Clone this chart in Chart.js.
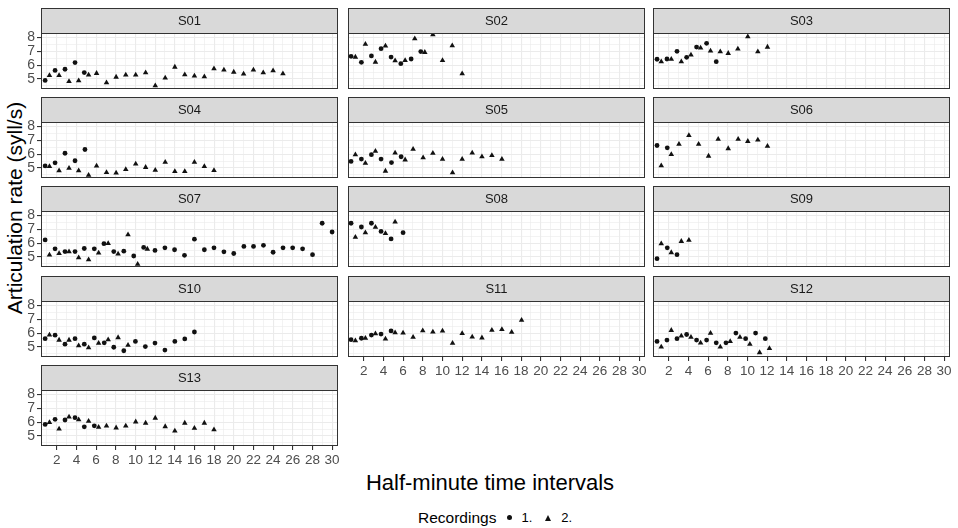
<!DOCTYPE html>
<html>
<head>
<meta charset="utf-8">
<script src="https://cdn.jsdelivr.net/npm/chart.js@4.4.0/dist/chart.umd.min.js"></script>
<style>
body { margin: 0; background: #fff; width: 958px; height: 528px; position: relative; overflow: hidden; font-family: 'Liberation Sans', Arial, sans-serif; }
canvas.panel { position: absolute; }
#ytitle { position: absolute; left: 15px; top: 208px; transform: translate(-50%, -50%) rotate(-90deg); font-size: 21px; color: #000; white-space: nowrap; }
#xtitle { position: absolute; left: 490px; top: 483px; transform: translate(-50%, -50%); font-size: 22px; color: #000; white-space: nowrap; }
#legend { position: absolute; left: 418px; top: 508px; font-size: 15.5px; color: #000; white-space: nowrap; }
#legend span { display: inline-block; vertical-align: middle; }
#legend .lab { font-size: 13px; }
.dot { width: 5px; height: 5px; border-radius: 50%; background: #111; margin: 0 9px 0 11px; }
.tri { width: 0; height: 0; border-left: 3.5px solid transparent; border-right: 3.5px solid transparent; border-bottom: 6px solid #111; margin: 0 10px 0 13px; }
</style>
</head>
<body>
<div id="ytitle">Articulation rate (syll/s)</div>
<div id="xtitle">Half-minute time intervals</div>
<div id="legend"><span>Recordings</span><span class="dot"></span><span class="lab">1.</span><span class="tri"></span><span class="lab">2.</span></div>
<script>
var subjects = ['S01', 'S02', 'S03', 'S04', 'S05', 'S06', 'S07', 'S08', 'S09', 'S10', 'S11', 'S12', 'S13'];

var xBreaks = [2, 4, 6, 8, 10, 12, 14, 16, 18, 20, 22, 24, 26, 28, 30];
var xMinor = [1, 3, 5, 7, 9, 11, 13, 15, 17, 19, 21, 23, 25, 27, 29];
var yBreaks = [5, 6, 7, 8];
var yMinor = [4.5, 5.5, 6.5, 7.5];

// [interval, rate] pairs, recording 1 (dots) and recording 2 (triangles)
var s01_rec1 = [[0.82,4.90],[1.83,5.62],[2.84,5.70],[3.86,6.18],[4.80,5.46]];
var s01_rec2 = [[1.26,5.26],[2.24,5.26],[3.25,4.83],[4.23,4.88],[5.24,5.29],[6.05,5.41],[7.06,4.74],[8.04,5.14],[9.02,5.29],[10.03,5.29],[11.04,5.46],[12.02,4.52],[13.03,5.07],[14.01,5.86],[15.02,5.31],[16.0,5.22],[17.01,5.17],[17.99,5.74],[19.0,5.65],[20.0,5.50],[21.0,5.36],[22.0,5.65],[23.0,5.46],[24.0,5.60],[25.0,5.38]];

var s02_rec1 = [[0.71,6.63],[1.76,6.20],[2.78,6.66],[3.76,7.18],[4.78,6.58],[5.77,6.10],[6.82,6.44],[7.80,6.97]];
var s02_rec2 = [[1.15,6.58],[2.17,7.50],[3.19,6.22],[4.21,7.38],[5.19,6.32],[6.21,6.34],[7.19,7.90],[8.21,6.92],[9.03,8.19],[10.01,6.34],[11.0,7.40],[12.01,5.38]];

var s03_rec1 = [[0.81,6.42],[1.82,6.44],[2.84,6.99],[3.82,6.56],[4.83,7.30],[5.85,7.57],[6.83,6.25]];
var s03_rec2 = [[1.24,6.25],[2.26,6.42],[3.28,6.25],[4.26,6.73],[5.24,7.23],[6.25,7.02],[7.24,6.97],[8.05,6.85],[9.03,7.16],[10.04,8.05],[11.06,6.97],[12.04,7.30]];

var s04_rec1 = [[0.82,5.15],[1.83,5.37],[2.84,6.06],[3.86,5.52],[4.87,6.33]];
var s04_rec2 = [[1.26,5.12],[2.24,4.80],[3.25,4.98],[4.23,4.80],[5.24,4.48],[6.05,5.15],[7.06,4.68],[8.04,4.65],[9.02,4.90],[10.03,5.30],[11.04,5.05],[12.02,4.85],[13.03,5.42],[14.01,4.75],[15.02,4.75],[16.0,5.42],[17.01,5.12],[17.99,4.83]];

var s05_rec1 = [[0.71,5.47],[1.76,5.64],[2.78,5.96],[3.76,5.64],[4.82,5.39],[5.80,5.81]];
var s05_rec2 = [[1.15,5.96],[2.17,5.34],[3.19,6.21],[4.21,4.78],[5.19,6.08],[6.21,5.59],[7.02,6.35],[8.04,5.74],[9.03,6.06],[10.01,5.64],[11.03,4.66],[12.01,5.64],[13.03,6.08],[14.02,5.81],[15.03,5.91],[16.05,5.64]];

var s06_rec1 = [[0.81,6.62],[1.85,6.45]];
var s06_rec2 = [[1.24,5.17],[2.26,5.98],[3.04,6.72],[4.05,7.34],[5.04,6.72],[6.05,5.86],[7.03,7.07],[8.05,6.40],[9.06,7.07],[10.04,6.92],[11.06,7.02],[12.04,6.57]];

var s07_rec1 = [[0.82,6.23],[1.83,5.59],[2.84,5.39],[3.86,5.39],[4.80,5.61],[5.82,5.59],[6.80,5.96],[7.80,5.39],[8.82,5.42],[9.83,5.07],[10.84,5.69],[11.99,5.47],[13.0,5.66],[13.98,5.52],[14.99,5.12],[16.0,6.28],[17.01,5.52],[17.99,5.66],[19.0,5.37],[20.0,5.25],[21.03,5.76],[22.01,5.76],[23.02,5.84],[24.0,5.34],[25.01,5.66],[25.99,5.66],[27.0,5.59],[28.01,5.17],[28.99,7.43],[30.0,6.80]];
var s07_rec2 = [[1.26,5.15],[2.24,5.25],[3.25,5.39],[4.23,4.95],[5.24,4.80],[6.26,5.30],[7.23,5.98],[8.24,5.22],[9.25,6.60],[10.23,4.48],[11.21,5.57]];

var s08_rec1 = [[0.71,7.43],[1.76,7.16],[2.78,7.43],[3.76,6.84],[4.78,6.30],[6.0,6.75]];
var s08_rec2 = [[1.15,6.43],[2.17,6.75],[3.19,7.14],[4.21,6.70],[5.19,7.53]];

var s09_rec1 = [[0.81,4.88],[1.85,5.66],[2.84,5.17]];
var s09_rec2 = [[1.24,5.96],[2.26,5.32],[3.28,6.13],[4.05,6.21]];

var s10_rec1 = [[0.82,5.60],[1.83,5.85],[2.84,5.20],[3.86,5.60],[4.80,5.20],[5.82,5.65],[6.83,5.30],[7.80,4.98],[8.82,4.73],[10.0,5.40],[11.01,5.03],[11.99,5.28],[13.0,4.78],[14.01,5.40],[15.02,5.58],[16.0,6.08]];
var s10_rec2 = [[1.26,5.87],[2.24,5.50],[3.25,5.50],[4.23,5.10],[5.24,4.95],[6.26,5.28],[7.23,5.53],[8.24,5.68],[9.25,5.13]];

var s11_rec1 = [[0.71,5.53],[1.76,5.63],[2.78,5.86],[3.76,5.93],[4.78,6.16]];
var s11_rec2 = [[1.15,5.45],[2.17,5.63],[3.19,5.96],[4.21,5.58],[5.19,6.03],[6.0,6.01],[7.02,5.71],[8.0,6.18],[9.03,6.08],[10.01,6.16],[11.03,5.28],[12.01,5.98],[13.03,5.73],[14.02,5.66],[15.03,6.21],[16.05,6.26],[17.04,6.06],[18.05,6.93]];

var s12_rec1 = [[0.81,5.40],[1.82,5.50],[2.84,5.60],[3.82,5.90],[4.83,5.50],[5.85,5.50],[6.83,5.30],[7.82,5.30],[8.83,6.00],[9.82,5.60],[10.83,6.00],[11.82,5.60]];
var s12_rec2 = [[1.24,5.00],[2.26,6.20],[3.28,5.80],[4.26,5.70],[5.24,5.30],[6.25,6.00],[7.24,5.00],[8.25,5.40],[9.24,5.70],[10.25,5.20],[11.24,4.60],[12.24,4.90]];

var s13_rec1 = [[0.82,5.83],[1.83,6.20],[2.84,6.15],[3.86,6.32],[4.80,5.66],[5.82,5.73]];
var s13_rec2 = [[1.26,5.98],[2.24,5.51],[3.25,6.37],[4.23,6.17],[5.24,6.07],[6.26,5.63],[7.06,5.73],[8.04,5.59],[9.02,5.73],[10.03,6.02],[11.04,5.93],[12.02,6.29],[13.03,5.68],[14.01,5.37],[15.02,5.93],[16.0,5.56],[17.01,5.93],[17.99,5.46]];

var rec1 = [s01_rec1, s02_rec1, s03_rec1, s04_rec1, s05_rec1, s06_rec1, s07_rec1, s08_rec1, s09_rec1, s10_rec1, s11_rec1, s12_rec1, s13_rec1];
var rec2 = [s01_rec2, s02_rec2, s03_rec2, s04_rec2, s05_rec2, s06_rec2, s07_rec2, s08_rec2, s09_rec2, s10_rec2, s11_rec2, s12_rec2, s13_rec2];

var colLeft = [41, 348, 653];
var rowTop = [33, 122, 211, 301, 390];
var panelW = 297, panelH = 56, stripH = 25;
var padL = 40, padR = 12, padB = 26, padT = 26;

var FONT = "'Liberation Sans', Arial, sans-serif";

function toPoints(arr) {
    var out = [];
    for (var i = 0; i < arr.length; i++) out.push({ x: arr[i][0], y: arr[i][1] });
    return out;
}

var facetPlugin = {
    id: 'facet',
    beforeDatasetsDraw: function(chart) {
        // panel border drawn over grid
        var a = chart.chartArea, ctx = chart.ctx;
        ctx.save();
        ctx.strokeStyle = '#333333';
        ctx.lineWidth = 1;
        ctx.strokeRect(a.left + 0.5, a.top + 0.5, a.right - a.left - 1, a.bottom - a.top - 1);
        ctx.restore();
    },
    afterDraw: function(chart) {
        var a = chart.chartArea, ctx = chart.ctx;
        ctx.save();
        ctx.fillStyle = '#D9D9D9';
        ctx.fillRect(a.left, a.top - stripH, a.right - a.left, stripH);
        ctx.strokeStyle = '#333333';
        ctx.lineWidth = 1;
        ctx.strokeRect(a.left + 0.5, a.top - stripH + 0.5, a.right - a.left - 1, stripH);
        ctx.fillStyle = '#1A1A1A';
        ctx.font = '13px ' + FONT;
        ctx.textAlign = 'center';
        ctx.textBaseline = 'middle';
        ctx.fillText(chart.options.plugins.facet.label, (a.left + a.right) / 2, a.top - stripH / 2 + 1);
        ctx.restore();
    }
};

function makePanel(i) {
    var col = i % 3, row = Math.floor(i / 3);
    var showY = col === 0;
    var showX = (i === 10 || i === 11 || i === 12);

    var cv = document.createElement('canvas');
    cv.className = 'panel';
    cv.width = padL + panelW + padR;
    cv.height = padT + panelH + padB;
    cv.style.left = (colLeft[col] - padL) + 'px';
    cv.style.top = (rowTop[row] - padT) + 'px';
    document.body.appendChild(cv);

    var xTicks = xBreaks.concat(xMinor).sort(function(a, b) { return a - b; });
    var yTicks = yBreaks.concat(yMinor).sort(function(a, b) { return a - b; });

    new Chart(cv, {
        type: 'scatter',
        data: {
            datasets: [{
                label: '1.',
                data: toPoints(rec1[i]),
                pointStyle: 'circle',
                pointRadius: 2.4,
                backgroundColor: '#111111',
                borderColor: '#111111',
                borderWidth: 0
            }, {
                label: '2.',
                data: toPoints(rec2[i]),
                pointStyle: 'triangle',
                pointRadius: 3.2,
                backgroundColor: '#111111',
                borderColor: '#111111',
                borderWidth: 0
            }]
        },
        options: {
            responsive: false,
            animation: false,
            devicePixelRatio: 1,
            layout: { padding: { top: padT, right: padR, left: 0, bottom: 0 } },
            plugins: {
                legend: { display: false },
                tooltip: { enabled: false },
                facet: { label: subjects[i] }
            },
            scales: {
                x: {
                    type: 'linear',
                    min: 0.4,
                    max: 30.6,
                    afterBuildTicks: function(s) { s.ticks = xTicks.map(function(v) { return { value: v }; }); },
                    afterFit: function(s) { s.height = padB; },
                    border: { display: false },
                    grid: {
                        color: '#EBEBEB',
                        lineWidth: function(c) { return (c.tick && c.tick.value % 2 === 0) ? 1.1 : 0.6; },
                        drawTicks: showX,
                        tickLength: 4,
                        tickColor: function(c) { return (c.tick && c.tick.value % 2 === 0) ? '#333333' : 'rgba(0,0,0,0)'; }
                    },
                    ticks: {
                        display: showX,
                        autoSkip: false,
                        maxRotation: 0,
                        padding: 2,
                        color: '#4D4D4D',
                        font: { family: FONT, size: 13.5 },
                        callback: function(v) { return xBreaks.indexOf(v) >= 0 ? String(v) : ''; }
                    }
                },
                y: {
                    type: 'linear',
                    min: 4.28,
                    max: 8.31,
                    afterBuildTicks: function(s) { s.ticks = yTicks.map(function(v) { return { value: v }; }); },
                    afterFit: function(s) { s.width = padL; },
                    border: { display: false },
                    grid: {
                        color: '#EBEBEB',
                        lineWidth: function(c) { return (c.tick && yBreaks.indexOf(c.tick.value) >= 0) ? 1.1 : 0.6; },
                        drawTicks: showY,
                        tickLength: 4,
                        tickColor: function(c) { return (c.tick && yBreaks.indexOf(c.tick.value) >= 0) ? '#333333' : 'rgba(0,0,0,0)'; }
                    },
                    ticks: {
                        display: showY,
                        autoSkip: false,
                        padding: 2,
                        color: '#4D4D4D',
                        font: { family: FONT, size: 14 },
                        callback: function(v) { return yBreaks.indexOf(v) >= 0 ? String(v) : ''; }
                    }
                }
            }
        },
        plugins: [facetPlugin]
    });
}

for (var i = 0; i < subjects.length; i++) makePanel(i);
</script>
</body>
</html>
